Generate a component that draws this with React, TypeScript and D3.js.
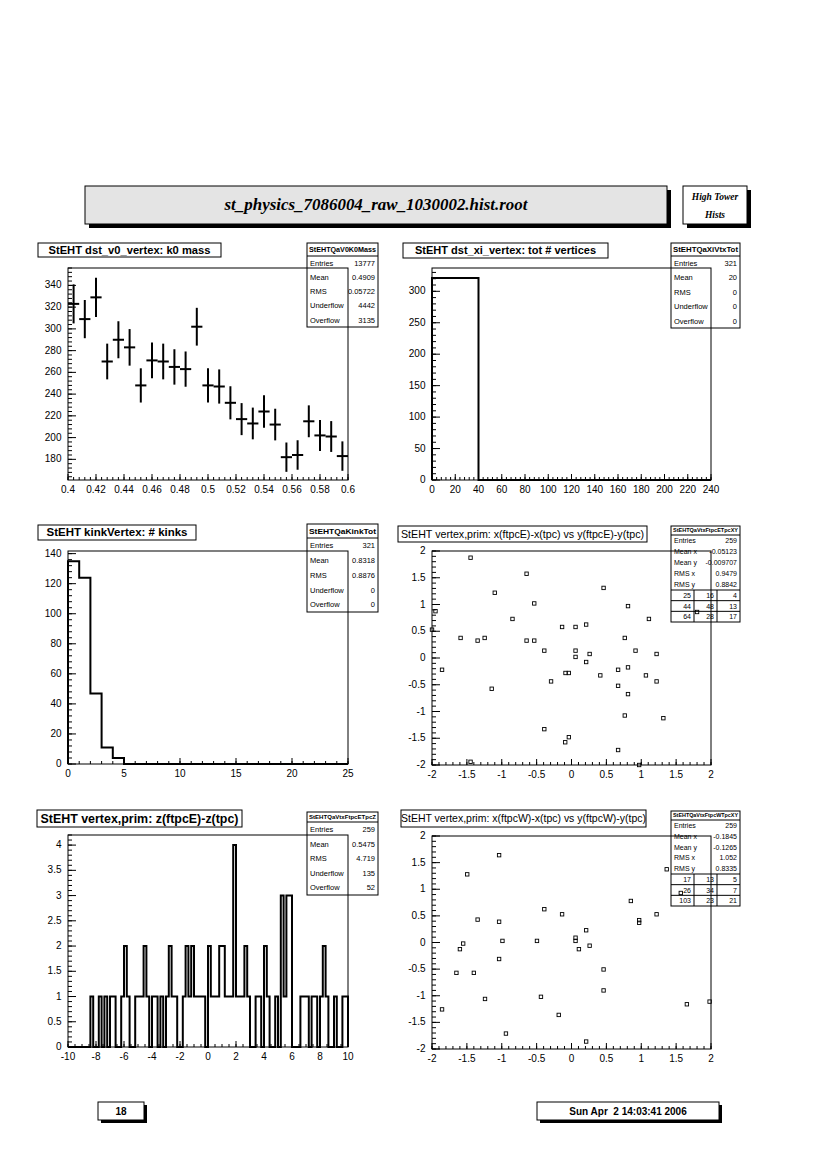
import React from "react";
import * as d3 from "d3";

const SANS = "'Liberation Sans Narrow', 'Liberation Sans', Arial, sans-serif";
const SANSW = "'Liberation Sans', Arial, sans-serif";
const SERIF = "'Liberation Serif', 'Times New Roman', serif";

// ---------------- page texts ----------------
const pageTitle = "st_physics_7086004_raw_1030002.hist.root";
const sideTitle = ["High Tower", "Hists"];
const pageNumber = "18";
const pageDate = "Sun Apr  2 14:03:41 2006";

// ---------------- panel 1: k0 mass ----------------
const k0Mass = [0.404, 0.412, 0.42, 0.428, 0.436, 0.444, 0.452, 0.46, 0.468, 0.476, 0.484, 0.492, 0.5, 0.508, 0.516, 0.524, 0.532, 0.54, 0.548, 0.556, 0.564, 0.572, 0.58, 0.588, 0.596];
const k0Counts = [323, 309, 329, 270, 290, 283, 248, 271, 270, 265, 263, 302, 248, 247, 232, 217, 213, 224, 212, 182, 184, 215, 202, 201, 183];
const k0BinWidth = 0.008;
const k0XTicks = [0.4, 0.42, 0.44, 0.46, 0.48, 0.5, 0.52, 0.54, 0.56, 0.58, 0.6];
const k0XLabels = ["0.4", "0.42", "0.44", "0.46", "0.48", "0.5", "0.52", "0.54", "0.56", "0.58", "0.6"];
const k0YTicks = [180, 200, 220, 240, 260, 280, 300, 320, 340];
const k0YLabels = ["180", "200", "220", "240", "260", "280", "300", "320", "340"];

// ---------------- panel 2: xi vertices ----------------
const xiEdges = [0, 40, 80, 120, 160, 200, 240];
const xiCounts = [321, 0, 0, 0, 0, 0];
const xiXTicks = [0, 20, 40, 60, 80, 100, 120, 140, 160, 180, 200, 220, 240];
const xiXLabels = ["0", "20", "40", "60", "80", "100", "120", "140", "160", "180", "200", "220", "240"];
const xiYTicks = [0, 50, 100, 150, 200, 250, 300];
const xiYLabels = ["0", "50", "100", "150", "200", "250", "300"];

// ---------------- panel 3: kinks ----------------
const kinkCounts = [135, 124, 47, 11, 4, 0, 0, 0, 0, 0, 0, 0, 0, 0, 0, 0, 0, 0, 0, 0, 0, 0, 0, 0, 0];
const kinkXTicks = [0, 5, 10, 15, 20, 25];
const kinkXLabels = ["0", "5", "10", "15", "20", "25"];
const kinkYTicks = [0, 20, 40, 60, 80, 100, 120, 140];
const kinkYLabels = ["0", "20", "40", "60", "80", "100", "120", "140"];

// ---------------- panel 4: ftpcE xy ----------------
const ftpcEX = [-1.447, -0.644, -1.1, -1.95, -0.534, -0.846, -2.0, -1.59, -1.346, -1.245, -0.644, -0.534, -0.39, -1.856, -1.144, -0.293, -0.135, 0.058, 0.21, 0.058, 0.058, 0.26, 0.21, -0.086, -0.038, 0.46, 0.81, 0.764, 0.918, 1.11, 1.22, 1.22, 0.668, 0.81, 0.413, 1.067, 0.668, 0.81, 0.764, 1.317, -0.39, -0.038, -0.09, 0.668, -1.447, 0.97, 1.8];
const ftpcEY = [1.875, 1.575, 1.22, 0.875, 1.02, 0.73, 0.53, 0.375, 0.325, 0.375, 0.325, 0.325, 0.1375, -0.22, -0.575, -0.4375, 0.58, 0.58, 0.625, 0.1375, 0.02, 0.075, -0.075, -0.28, -0.28, 1.31, 0.97, 0.375, 0.1375, 0.73, 0.075, -0.4375, -0.22, -0.175, -0.325, -0.325, -0.52, -0.675, -1.075, -1.125, -1.33, -1.48, -1.575, -1.72, -1.94, -2.0, 0.86];

// ---------------- panel 5: z diff ----------------
const zCounts = [
  0, 0, 0, 0, 0, 0, 0, 0, 1, 0,
  0, 1, 0, 1, 0, 1, 1, 0, 0, 1,
  2, 1, 0, 0, 1, 1, 1, 2, 1, 0,
  1, 1, 0, 1, 0, 1, 2, 1, 1, 0,
  0, 1, 2, 1, 2, 1, 1, 1, 1, 0,
  2, 1, 1, 1, 2, 2, 1, 1, 1, 4,
  1, 1, 1, 2, 1, 0, 0, 1, 1, 0,
  2, 1, 0, 0, 1, 0, 3, 1, 3, 3,
  0, 0, 0, 1, 1, 1, 0, 1, 1, 0,
  1, 2, 1, 0, 0, 1, 0, 0, 1, 1,
];
const zXTicks = [-10, -8, -6, -4, -2, 0, 2, 4, 6, 8, 10];
const zXLabels = ["-10", "-8", "-6", "-4", "-2", "0", "2", "4", "6", "8", "10"];
const zYTicks = [0, 0.5, 1, 1.5, 2, 2.5, 3, 3.5, 4];
const zYLabels = ["0", "0.5", "1", "1.5", "2", "2.5", "3", "3.5", "4"];

// ---------------- panel 6: ftpcW xy ----------------
const ftpcWX = [-1.038, -1.495, 1.365, 1.567, 0.851, -0.39, -0.135, 1.22, -1.346, -1.038, 0.97, 0.97, 0.21, -0.99, -0.495, 0.058, 0.058, -1.553, -1.6, 0.106, 0.26, -1.038, -1.65, -1.4, 0.46, 0.46, -1.24, -0.438, -1.856, -0.183, -0.94, 0.21, 1.654, 1.98];
const ftpcWY = [1.64, 1.28, 1.375, 0.93, 0.78, 0.625, 0.53, 0.53, 0.43, 0.39, 0.42, 0.37, 0.23, 0.03, 0.03, 0.09, 0.03, -0.02, -0.125, -0.125, -0.06, -0.31, -0.57, -0.57, -0.506, -0.9, -1.06, -1.02, -1.256, -1.36, -1.71, -1.86, -1.16, -1.11];

const xyTicks = [-2, -1.5, -1, -0.5, 0, 0.5, 1, 1.5, 2];
const xyLabels = ["-2", "-1.5", "-1", "-0.5", "0", "0.5", "1", "1.5", "2"];

// ---------------- stats texts ----------------
const stats1 = [["Entries", "13777"], ["Mean", "0.4909"], ["RMS", "0.05722"], ["Underflow", "4442"], ["Overflow", "3135"]];
const stats2 = [["Entries", "321"], ["Mean", "20"], ["RMS", "0"], ["Underflow", "0"], ["Overflow", "0"]];
const stats3 = [["Entries", "321"], ["Mean", "0.8318"], ["RMS", "0.8876"], ["Underflow", "0"], ["Overflow", "0"]];
const stats4 = [["Entries", "259"], ["Mean x", "-0.05123"], ["Mean y", "-0.009707"], ["RMS x", "0.9479"], ["RMS y", "0.8842"]];
const grid4 = [["25", "16", "4"], ["44", "48", "13"], ["64", "28", "17"]];
const stats5 = [["Entries", "259"], ["Mean", "0.5475"], ["RMS", "4.719"], ["Underflow", "135"], ["Overflow", "52"]];
const stats6 = [["Entries", "259"], ["Mean x", "-0.1845"], ["Mean y", "-0.1265"], ["RMS x", "1.052"], ["RMS y", "0.8335"]];
const grid6 = [["17", "13", "5"], ["26", "34", "7"], ["103", "23", "21"]];

type Rect = { x: number; y: number; w: number; h: number };

function minorValues(domain: [number, number], step: number) {
  const start = Math.ceil(domain[0] / step - 1e-6);
  const end = Math.floor(domain[1] / step + 1e-6);
  return d3.range(start, end + 1).map((k) => k * step);
}

function ShadowBox({ r, fill, shadow = 4, children }: { r: Rect; fill: string; shadow?: number; children?: any }) {
  return (
    <g>
      <rect x={r.x + shadow} y={r.y + shadow} width={r.w} height={r.h} fill="#000" />
      <rect x={r.x} y={r.y} width={r.w} height={r.h} fill={fill} stroke="#000" strokeWidth={1} />
      {children}
    </g>
  );
}

function Stats({ box, header, headerH, headerSize, rows, rowSize, grid, gridTop }: any) {
  const bottom = box.y + box.h;
  const rowsBottom = grid ? gridTop : bottom;
  const rh = (rowsBottom - (box.y + headerH)) / rows.length;
  const cw = box.w / 3;
  const gh = grid ? (bottom - gridTop) / grid.length : 0;
  return (
    <g fontFamily={SANS}>
      <rect x={box.x} y={box.y} width={box.w} height={box.h} fill="#fff" stroke="#000" strokeWidth={1} />
      <line x1={box.x} x2={box.x + box.w} y1={box.y + headerH} y2={box.y + headerH} stroke="#000" strokeWidth={1} />
      <text x={box.x + box.w / 2} y={box.y + headerH / 2 + headerSize * 0.36} fontSize={headerSize} fontWeight="bold" textAnchor="middle" textLength={box.w - 4} lengthAdjust="spacingAndGlyphs">
        {header}
      </text>
      {rows.map((r: string[], i: number) => {
        const cy = box.y + headerH + rh * (i + 0.5) + rowSize * 0.36;
        return (
          <g key={i} fontSize={rowSize}>
            <text x={box.x + 3} y={cy}>{r[0]}</text>
            <text x={box.x + box.w - 3} y={cy} textAnchor="end">{r[1]}</text>
          </g>
        );
      })}
      {grid && (
        <g>
          {grid.map((_: any, i: number) => (
            <line key={"h" + i} x1={box.x} x2={box.x + box.w} y1={gridTop + gh * i} y2={gridTop + gh * i} stroke="#000" strokeWidth={1} />
          ))}
          <line x1={box.x + cw} x2={box.x + cw} y1={gridTop} y2={bottom} stroke="#000" strokeWidth={1} />
          <line x1={box.x + 2 * cw} x2={box.x + 2 * cw} y1={gridTop} y2={bottom} stroke="#000" strokeWidth={1} />
          {grid.map((row: string[], i: number) =>
            row.map((v, j) => (
              <text key={i + "-" + j} x={box.x + cw * (j + 1) - 3} y={gridTop + gh * (i + 0.5) + rowSize * 0.36} fontSize={rowSize} textAnchor="end">
                {v}
              </text>
            ))
          )}
        </g>
      )}
    </g>
  );
}

function Panel(props: any) {
  const { f, xDomain, yDomain, xTicks, xLabels, xMinor, yTicks, yLabels, yMinor, title, titleBox, titleSize, titleWeight, titleLen, stats, render } = props;
  const xs = d3.scaleLinear().domain(xDomain).range([f.x, f.x + f.w]);
  const ys = d3.scaleLinear().domain(yDomain).range([f.y + f.h, f.y]);
  const bottom = f.y + f.h;
  const xMaj = 6, xMin = 3, yMaj = 8, yMin = 4;
  return (
    <g>
      <rect x={titleBox.x} y={titleBox.y} width={titleBox.w} height={titleBox.h} fill="#fff" stroke="#000" strokeWidth={1} />
      <text x={titleBox.x + titleBox.w / 2} y={titleBox.y + titleBox.h / 2 + titleSize * 0.36} fontFamily={SANSW} fontSize={titleSize} fontWeight={titleWeight} textAnchor="middle" textLength={titleLen} lengthAdjust="spacingAndGlyphs">
        {title}
      </text>
      {stats}
      <rect x={f.x} y={f.y} width={f.w} height={f.h} fill="none" stroke="#000" strokeWidth={1} />
      <g stroke="#000" strokeWidth={1}>
        {minorValues(xDomain, xMinor).map((v, i) => (
          <line key={"xm" + i} x1={xs(v)} x2={xs(v)} y1={bottom} y2={bottom - xMin} />
        ))}
        {xTicks.map((v: number, i: number) => (
          <line key={"xM" + i} x1={xs(v)} x2={xs(v)} y1={bottom} y2={bottom - xMaj} />
        ))}
        {minorValues(yDomain, yMinor).map((v, i) => (
          <line key={"ym" + i} x1={f.x} x2={f.x + yMin} y1={ys(v)} y2={ys(v)} />
        ))}
        {yTicks.map((v: number, i: number) => (
          <line key={"yM" + i} x1={f.x} x2={f.x + yMaj} y1={ys(v)} y2={ys(v)} />
        ))}
      </g>
      <g fontFamily={SANS} fontSize={10}>
        {xTicks.map((v: number, i: number) => (
          <text key={"xl" + i} x={xs(v)} y={bottom + 12.5} textAnchor="middle">{xLabels[i]}</text>
        ))}
        {yTicks.map((v: number, i: number) => (
          <text key={"yl" + i} x={f.x - 6.5} y={ys(v) + 3} textAnchor="end">{yLabels[i]}</text>
        ))}
      </g>
      {render(xs, ys)}
    </g>
  );
}

function stepPath(edges: number[], counts: number[], xs: any, ys: any) {
  const p = d3.path();
  p.moveTo(xs(edges[0]), ys(0));
  counts.forEach((c, i) => {
    p.lineTo(xs(edges[i]), ys(c));
    p.lineTo(xs(edges[i + 1]), ys(c));
  });
  p.lineTo(xs(edges[edges.length - 1]), ys(0));
  return p.toString();
}

function Squares({ xv, yv, xs, ys }: any) {
  return (
    <g fill="none" stroke="#000" strokeWidth={0.9}>
      {xv.map((x: number, i: number) => (
        <rect key={i} x={xs(x) - 1.7} y={ys(yv[i]) - 1.7} width={3.4} height={3.4} />
      ))}
    </g>
  );
}

export default function App() {
  const kinkEdges = d3.range(0, kinkCounts.length + 1);
  const zEdges = d3.range(0, zCounts.length + 1).map((k) => -10 + 0.2 * k);

  return (
    <div style={{ position: "absolute", left: 0, top: 0, width: 826, height: 1170, background: "#fff" }}>
      <svg width={826} height={1170} viewBox="0 0 826 1170" style={{ display: "block" }}>
        <rect x={0} y={0} width={826} height={1170} fill="#fff" />

        {/* header */}
        <ShadowBox r={{ x: 85, y: 186, w: 582, h: 38 }} fill="#e4e4e4">
          <text x={376} y={210} fontFamily={SERIF} fontSize={16} fontWeight="bold" fontStyle="italic" textAnchor="middle" textLength={303} lengthAdjust="spacingAndGlyphs">
            {pageTitle}
          </text>
        </ShadowBox>
        <ShadowBox r={{ x: 683, y: 186, w: 64, h: 38 }} fill="#fff">
          <text x={715} y={200} fontFamily={SERIF} fontSize={9.5} fontWeight="bold" fontStyle="italic" textAnchor="middle">{sideTitle[0]}</text>
          <text x={715} y={218} fontFamily={SERIF} fontSize={9.5} fontWeight="bold" fontStyle="italic" textAnchor="middle">{sideTitle[1]}</text>
        </ShadowBox>

        {/* panel 1 */}
        <Panel
          f={{ x: 68, y: 268, w: 280, h: 212 }}
          xDomain={[0.4, 0.6]} yDomain={[161, 356]}
          xTicks={k0XTicks} xLabels={k0XLabels} xMinor={0.004}
          yTicks={k0YTicks} yLabels={k0YLabels} yMinor={4}
          title="StEHT dst_v0_vertex: k0 mass" titleBox={{ x: 38, y: 243, w: 183, h: 14 }} titleSize={11} titleWeight="bold" titleLen={162}
          stats={<Stats box={{ x: 307, y: 243, w: 71, h: 84 }} header="StEHTQaV0K0Mass" headerH={13} headerSize={6.5} rows={stats1} rowSize={7.5} />}
          render={(xs: any, ys: any) => (
            <g stroke="#000" strokeWidth={2}>
              {k0Mass.map((m, i) => {
                const c = k0Counts[i];
                const e = Math.sqrt(c);
                return (
                  <g key={i}>
                    <line x1={xs(m - k0BinWidth / 2)} x2={xs(m + k0BinWidth / 2)} y1={ys(c)} y2={ys(c)} />
                    <line x1={xs(m)} x2={xs(m)} y1={ys(c - e)} y2={ys(c + e)} />
                  </g>
                );
              })}
            </g>
          )}
        />

        {/* panel 2 */}
        <Panel
          f={{ x: 432, y: 268, w: 279, h: 212 }}
          xDomain={[0, 240]} yDomain={[0, 337.05]}
          xTicks={xiXTicks} xLabels={xiXLabels} xMinor={4}
          yTicks={xiYTicks} yLabels={xiYLabels} yMinor={10}
          title="StEHT dst_xi_vertex: tot # vertices" titleBox={{ x: 403, y: 243, w: 205, h: 15 }} titleSize={11} titleWeight="bold" titleLen={181}
          stats={<Stats box={{ x: 671, y: 243, w: 69, h: 85 }} header="StEHTQaXiVtxTot" headerH={13} headerSize={6.5} rows={stats2} rowSize={7.5} />}
          render={(xs: any, ys: any) => (
            <path d={stepPath(xiEdges, xiCounts, xs, ys)} fill="none" stroke="#000" strokeWidth={2} />
          )}
        />

        {/* panel 3 */}
        <Panel
          f={{ x: 68, y: 551, w: 280, h: 213 }}
          xDomain={[0, 25]} yDomain={[0, 141.75]}
          xTicks={kinkXTicks} xLabels={kinkXLabels} xMinor={1}
          yTicks={kinkYTicks} yLabels={kinkYLabels} yMinor={4}
          title="StEHT kinkVertex: # kinks" titleBox={{ x: 38, y: 525, w: 158, h: 15 }} titleSize={11} titleWeight="bold" titleLen={141}
          stats={<Stats box={{ x: 307, y: 524, w: 71, h: 88 }} header="StEHTQaKinkTot" headerH={14} headerSize={8} rows={stats3} rowSize={7.5} />}
          render={(xs: any, ys: any) => (
            <path d={stepPath(kinkEdges, kinkCounts, xs, ys)} fill="none" stroke="#000" strokeWidth={2} />
          )}
        />

        {/* panel 4 */}
        <Panel
          f={{ x: 432, y: 551, w: 279, h: 214 }}
          xDomain={[-2, 2]} yDomain={[-2, 2]}
          xTicks={xyTicks} xLabels={xyLabels} xMinor={0.1}
          yTicks={xyTicks} yLabels={xyLabels} yMinor={0.1}
          title="StEHT  vertex,prim: x(ftpcE)-x(tpc) vs y(ftpcE)-y(tpc)" titleBox={{ x: 398, y: 526, w: 249, h: 16 }} titleSize={10.5} titleWeight="normal" titleLen={243}
          stats={<Stats box={{ x: 671, y: 526, w: 69, h: 96 }} header="StEHTQaVtxFtpcETpcXY" headerH={9} headerSize={5} rows={stats4} rowSize={7} grid={grid4} gridTop={590} />}
          render={(xs: any, ys: any) => <Squares xv={ftpcEX} yv={ftpcEY} xs={xs} ys={ys} />}
        />

        {/* panel 5 */}
        <Panel
          f={{ x: 68, y: 835, w: 280, h: 212 }}
          xDomain={[-10, 10]} yDomain={[0, 4.2]}
          xTicks={zXTicks} xLabels={zXLabels} xMinor={0.5}
          yTicks={zYTicks} yLabels={zYLabels} yMinor={0.1}
          title="StEHT  vertex,prim: z(ftpcE)-z(tpc)" titleBox={{ x: 37, y: 810, w: 205, h: 17 }} titleSize={13} titleWeight="bold" titleLen={198}
          stats={<Stats box={{ x: 307, y: 812, w: 71, h: 83 }} header="StEHTQaVtxFtpcETpcZ" headerH={10} headerSize={5} rows={stats5} rowSize={7.5} />}
          render={(xs: any, ys: any) => (
            <path d={stepPath(zEdges, zCounts, xs, ys)} fill="none" stroke="#000" strokeWidth={2} />
          )}
        />

        {/* panel 6 */}
        <Panel
          f={{ x: 432, y: 836, w: 279, h: 213 }}
          xDomain={[-2, 2]} yDomain={[-2, 2]}
          xTicks={xyTicks} xLabels={xyLabels} xMinor={0.1}
          yTicks={xyTicks} yLabels={xyLabels} yMinor={0.1}
          title="StEHT  vertex,prim: x(ftpcW)-x(tpc) vs y(ftpcW)-y(tpc)" titleBox={{ x: 401, y: 810, w: 245, h: 17 }} titleSize={10.5} titleWeight="normal" titleLen={245}
          stats={<Stats box={{ x: 671, y: 811, w: 69, h: 95 }} header="StEHTQaVtxFtpcWTpcXY" headerH={9} headerSize={5} rows={stats6} rowSize={7} grid={grid6} gridTop={874} />}
          render={(xs: any, ys: any) => <Squares xv={ftpcWX} yv={ftpcWY} xs={xs} ys={ys} />}
        />

        {/* footer */}
        <ShadowBox r={{ x: 98, y: 1102, w: 46, h: 18 }} fill="#fff" shadow={3}>
          <text x={121} y={1115} fontFamily={SANSW} fontSize={10} fontWeight="bold" textAnchor="middle">{pageNumber}</text>
        </ShadowBox>
        <ShadowBox r={{ x: 537, y: 1102, w: 182, h: 18 }} fill="#fff" shadow={3}>
          <text x={628} y={1115} fontFamily={SANSW} fontSize={10} fontWeight="bold" textAnchor="middle" xmlSpace="preserve" style={{ whiteSpace: "pre" }}>{pageDate}</text>
        </ShadowBox>
      </svg>
    </div>
  );
}
